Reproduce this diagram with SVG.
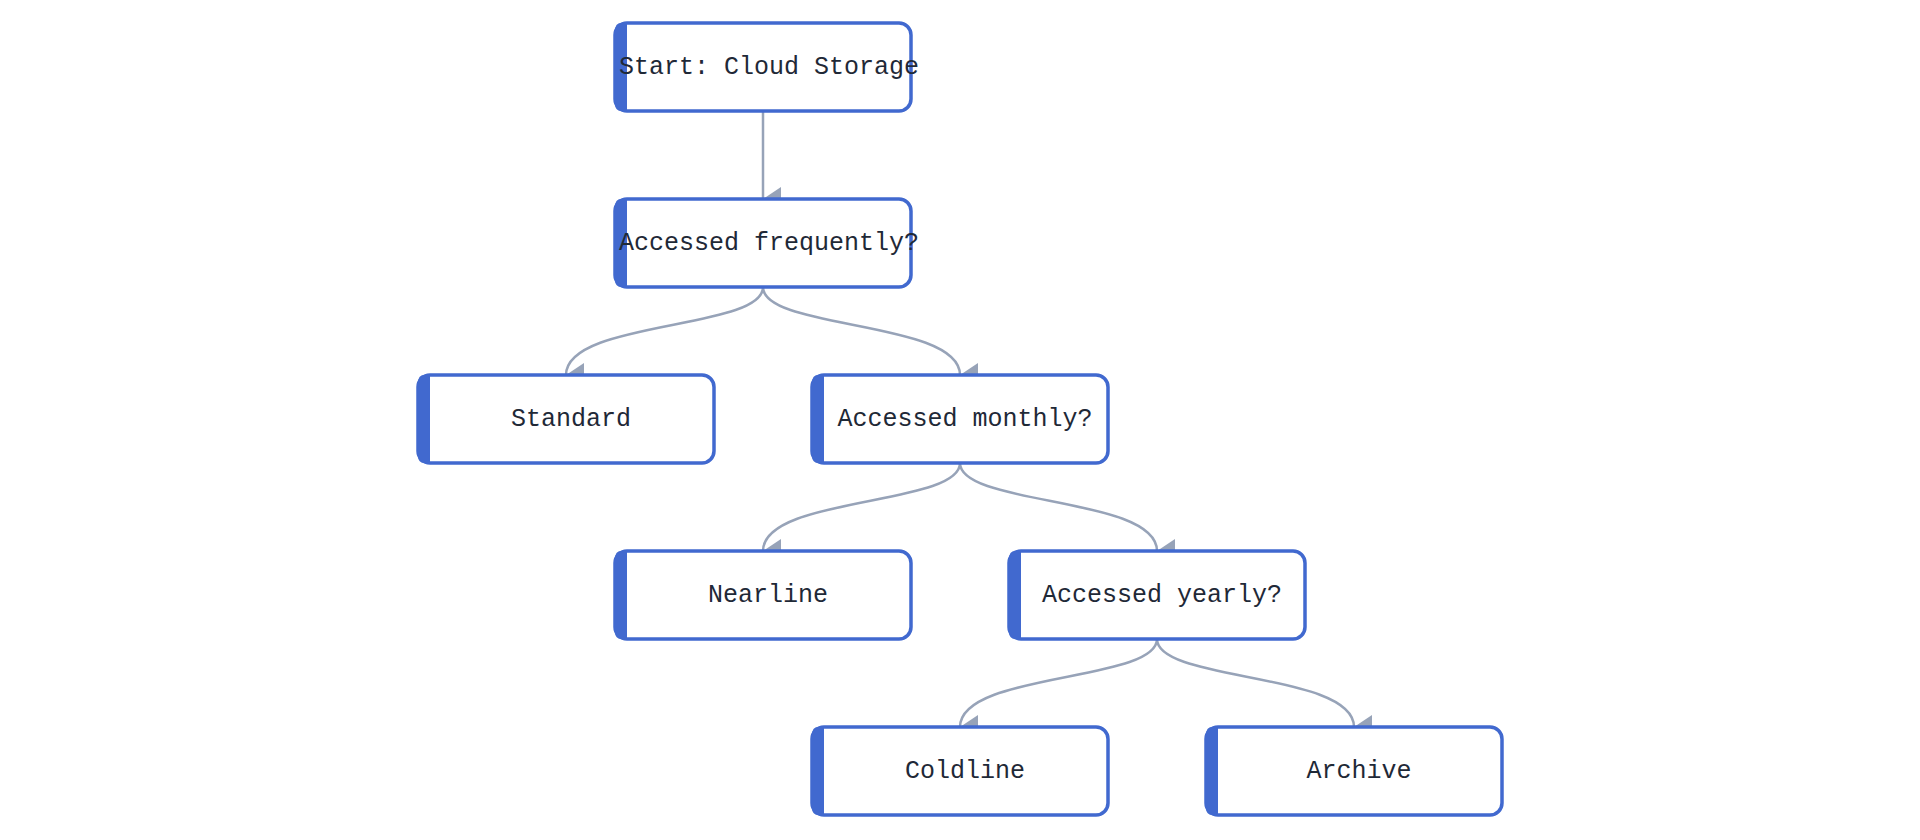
<svg xmlns="http://www.w3.org/2000/svg" width="1920" height="840" viewBox="0 0 1920 840">
<style>
.box{fill:#fff;stroke:#4169cf;stroke-width:3.5}
.bar{fill:#4169cf}
.t{font-family:"Liberation Mono",monospace;font-size:25px;fill:#1f2937;text-anchor:middle;dominant-baseline:central}
.e{fill:none;stroke:#97a3b8;stroke-width:2.5}
</style>
<defs>
<marker id="a" viewBox="0 0 24 18" refX="12" refY="18" markerWidth="24" markerHeight="18" markerUnits="userSpaceOnUse" orient="auto-start-reverse">
<path d="M0,0 L24,0 L12,18 Z" fill="#97a3b8"/>
</marker>
<g id="n"><rect class="box" x="0" y="0" width="296" height="88" rx="12"/><path class="bar" d="M12,0 L12,88 L6,88 Q0,88 0,80 L0,8 Q0,0 6,0 Z"/></g>
</defs>
<g id="connectors">
<path class="e" d="M763,111 L763,199" marker-end="url(#a)"/>
<path class="e" d="M763,287 C763,330 566,320 566,375" marker-end="url(#a)"/>
<path class="e" d="M763,287 C763,330 960,320 960,375" marker-end="url(#a)"/>
<path class="e" d="M960,463 C960,506 763,496 763,551" marker-end="url(#a)"/>
<path class="e" d="M960,463 C960,506 1157,496 1157,551" marker-end="url(#a)"/>
<path class="e" d="M1157,639 C1157,682 960,672 960,727" marker-end="url(#a)"/>
<path class="e" d="M1157,639 C1157,682 1354,672 1354,727" marker-end="url(#a)"/>
</g>
<g id="start"><use href="#n" x="615" y="23"/><text class="t" x="769" y="67">Start: Cloud Storage</text></g>
<g id="freq"><use href="#n" x="615" y="199"/><text class="t" x="769" y="243">Accessed frequently?</text></g>
<g id="standard"><use href="#n" x="418" y="375"/><text class="t" x="571" y="419">Standard</text></g>
<g id="monthly"><use href="#n" x="812" y="375"/><text class="t" x="965" y="419">Accessed monthly?</text></g>
<g id="nearline"><use href="#n" x="615" y="551"/><text class="t" x="768" y="595">Nearline</text></g>
<g id="yearly"><use href="#n" x="1009" y="551"/><text class="t" x="1162" y="595">Accessed yearly?</text></g>
<g id="coldline"><use href="#n" x="812" y="727"/><text class="t" x="965" y="771">Coldline</text></g>
<g id="archive"><use href="#n" x="1206" y="727"/><text class="t" x="1359" y="771">Archive</text></g>
</svg>
